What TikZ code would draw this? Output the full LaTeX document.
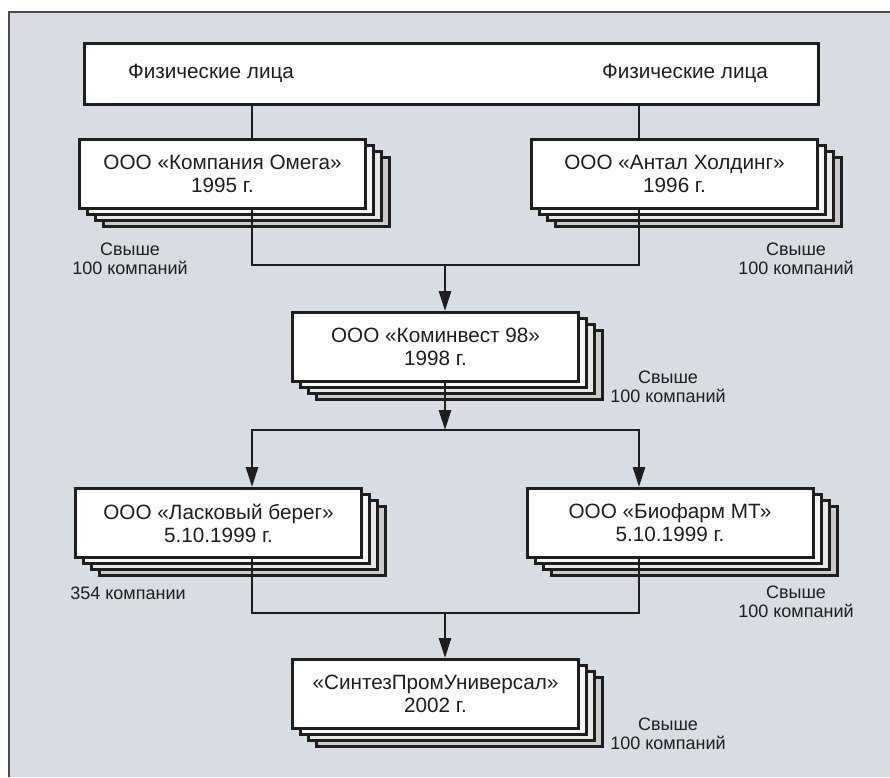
\documentclass[tikz,border=0pt]{standalone}
\usepackage{fontspec}
\setmainfont{Liberation Sans}
\usetikzlibrary{shadows,arrows.meta}
\definecolor{bgcolor}{RGB}{216,221,228}
\definecolor{framecolor}{RGB}{75,75,75}
\definecolor{inkcolor}{RGB}{30,30,30}

\begin{document}
\begin{tikzpicture}
[x=1pt, y=-1pt,
firmnode/.style={rectangle, draw=inkcolor, line width=3pt, fill=white, text=inkcolor,
  minimum width=286pt, minimum height=69pt, inner sep=0pt, align=center,
  font=\fontsize{20.7}{23}\selectfont,
  copy shadow={shadow xshift=24pt, shadow yshift=-18pt, fill=black!20},
  copy shadow={shadow xshift=16pt, shadow yshift=-12pt, fill=black!9},
  copy shadow={shadow xshift=8pt, shadow yshift=-6pt, fill=black!3}},
ownernode/.style={rectangle, draw=inkcolor, line width=3pt, fill=white,
  minimum width=734pt, minimum height=61pt, inner sep=0pt},
namenode/.style={text=inkcolor, font=\fontsize{20.7}{23}\selectfont, inner sep=0pt},
notenode/.style={text=inkcolor, align=center, font=\fontsize{18}{18.5}\selectfont, inner sep=0pt},
link/.style={draw=inkcolor, line width=2.8pt},
connect/.style={link, -{Triangle[length=20pt, width=12pt]}}]

\useasboundingbox (0,0) rectangle (890,777);
\fill[bgcolor] (8,11) rectangle (890,777);
\draw[framecolor, line width=1.7pt] (8,11.8) -- (890,11.8);
\draw[framecolor, line width=2.3pt] (9.2,11) -- (9.2,777);

\node[ownernode]	(people) at (451.5, 74) {};
\node[namenode]	(people1) at (211, 73) {Физические лица};
\node[namenode]	(people2) at (685, 73) {Физические лица};

\node[firmnode]	(omega) at (222.5, 174) {ООО «Компания Омега»\\1995 г.};
\node[firmnode]	(antal) at (674.5, 174) {ООО «Антал Холдинг»\\1996 г.};
\node[firmnode]	(komin) at (435.5, 347) {ООО «Коминвест 98»\\1998 г.};
\node[firmnode]	(laskovy) at (218.5, 523) {ООО «Ласковый берег»\\5.10.1999 г.};
\node[firmnode]	(biofarm) at (670, 523) {ООО «Биофарм МТ»\\5.10.1999 г.};
\node[firmnode]	(sintez) at (435.5, 694) {«СинтезПромУниверсал»\\2002 г.};

\node[notenode]	(omeganote) at (130, 259) {Свыше\\100 компаний};
\node[notenode]	(antalnote) at (796, 259) {Свыше\\100 компаний};
\node[notenode]	(kominnote) at (668, 387) {Свыше\\100 компаний};
\node[notenode]	(laskovynote) at (128, 593) {354 компании};
\node[notenode]	(biofarmnote) at (796, 602) {Свыше\\100 компаний};
\node[notenode]	(sinteznote) at (668, 734) {Свыше\\100 компаний};

\coordinate (leftx) at (252, 0);
\coordinate (rightx) at (639, 0);
\coordinate (midx) at (445, 0);
\coordinate (topjoin) at (445, 265);
\coordinate (split) at (445, 430);
\coordinate (bottomjoin) at (445, 613);

\draw[link] (people.south -| leftx) -- (omega.north -| leftx);
\draw[link] (people.south -| rightx) -- (antal.north -| rightx);
\draw[link] (omega.south -| leftx) |- (topjoin);
\draw[link] (antal.south -| rightx) |- (topjoin);
\draw[connect] (topjoin) -- (komin.north -| midx);
\draw[connect] (komin.south -| midx) -- (split);
\draw[connect] (split) -| (laskovy.north -| leftx);
\draw[connect] (split) -| (biofarm.north -| rightx);
\draw[link] (laskovy.south -| leftx) |- (bottomjoin);
\draw[link] (biofarm.south -| rightx) |- (bottomjoin);
\draw[connect] (bottomjoin) -- (sintez.north -| midx);

\end{tikzpicture}
\end{document}
